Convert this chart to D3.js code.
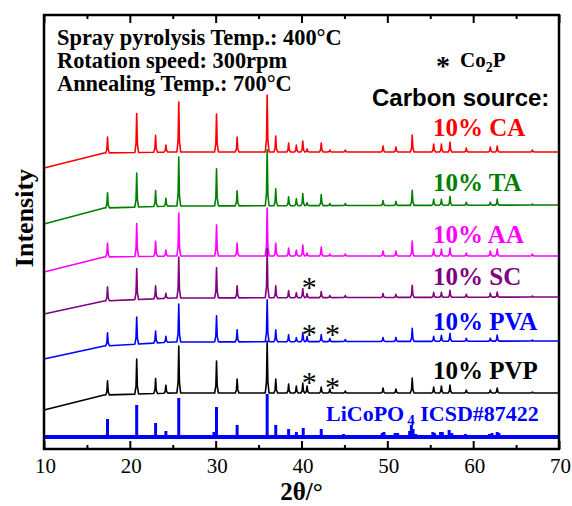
<!DOCTYPE html>
<html>
<head>
<meta charset="utf-8">
<script src="https://cdn.jsdelivr.net/npm/d3@7"></script>
<style>
  body { margin: 0; background: #fff; }
  svg { display: block; }
  .serif { font-family: "Liberation Serif", "Times New Roman", serif; }
  .sans { font-family: "Liberation Sans", Arial, sans-serif; }
</style>
</head>
<body>
<div id="chart"></div>
<script>
// peak positions (2θ, degrees) shared by the sample patterns
const peakPos = [17.4, 20.8, 23.0, 24.2, 25.7, 30.1, 32.5, 36.0, 37.0, 38.5, 39.4, 40.15, 40.65,
                 42.3, 43.3, 45.1, 49.5, 51.0, 52.9, 55.4, 56.3, 57.3, 59.2, 62.0, 62.8, 66.9];

// peak heights (a.u.) for every sample, same order as peakPos
const hCA  = [16, 39, 17, 7, 50, 38, 15, 57, 16, 9, 7, 11, 3, 9, 2, 2, 6, 5, 17, 8, 8, 10, 4, 5, 6, 2];
const hTA  = [15, 34, 16, 8, 49, 37, 15, 56, 17, 9, 7, 12, 3, 11, 2, 2, 5, 4, 15, 6, 6, 9, 3, 3, 6, 1];
const hAA  = [14, 33, 15, 6, 43, 31, 13, 48, 13, 8, 6, 11, 3, 9, 2, 2, 5, 5, 15, 7, 7, 8, 3, 5, 7, 2];
const hSC  = [14, 31, 13, 5, 41, 30, 12, 49, 12, 7, 5, 9, 4, 6, 2, 2, 4, 3, 12, 5, 5, 7, 3, 4, 5, 1];
const hPVA = [13, 27, 12, 6, 38, 26, 12, 42, 12, 7, 4, 9, 5, 7, 3, 2, 4, 4, 13, 5, 6, 8, 3, 3, 6, 1];
const hPVP = [14, 35, 15, 8, 47, 32, 14, 52, 14, 9, 7, 10, 7, 6, 4, 2, 5, 4, 15, 6, 7, 8, 3, 3, 5, 1];

// background knots (2θ) and stacked background levels per sample (a.u.)
const bgPos = [10, 17, 25, 70];
const bgCA  = [281, 296, 297, 297];
const bgTA  = [225, 241, 243, 244];
const bgAA  = [177, 192, 193, 193];
const bgSC  = [135, 148, 151, 152];
const bgPVA = [90, 103, 107, 108];
const bgPVP = [39, 54, 56, 56];

// peak profile template: [offset in degrees, fraction of height]
const peakShape = [[-0.22, 0], [-0.08, 0.22], [0, 1], [0.08, 0.22], [0.22, 0]];

// LiCoPO4 reference card ICSD#87422
const refBase = 12;
const refPos = [17.4, 20.8, 23.0, 24.2, 25.7, 29.8, 30.1, 32.5, 35.1, 36.0, 37.0, 38.5, 39.4, 40.2,
                42.3, 44.9, 45.9, 49.4, 49.6, 50.9, 51.2, 52.6, 52.8, 53.0, 53.3, 55.3, 55.5, 56.2,
                56.4, 57.2, 57.5, 59.1, 61.9, 62.2, 62.8, 63.0, 66.1, 67.2, 67.6];
const refH = [18, 32, 14, 6, 39, 5, 30, 12, 2, 43, 12, 8, 5, 9, 8, 3, 2, 4, 5, 4, 4, 6, 12, 8, 3,
              5, 4, 5, 5, 7, 4, 3, 3, 4, 5, 4, 1, 2, 2];

const seriesNames  = ["10% CA", "10% TA", "10% AA", "10% SC", "10% PVA", "10% PVP"];
const seriesColors = ["#ff0000", "#008000", "#ff00ff", "#800080", "#0000ff", "#000000"];
const seriesHeights = [hCA, hTA, hAA, hSC, hPVA, hPVP];
const seriesBg = [bgCA, bgTA, bgAA, bgSC, bgPVA, bgPVP];

// Co2P marks: sample index, 2θ, height above the background
const starMarks = [[3, 40.9, 14], [4, 40.9, 11], [4, 43.6, 11], [5, 40.9, 15], [5, 43.6, 10]];

const majorTicks = [10, 20, 30, 40, 50, 60, 70];
const minorTicks = [15, 25, 35, 45, 55, 65];

const infoLines = ["Spray pyrolysis Temp.: 400°C", "Rotation speed: 300rpm", "Annealing Temp.: 700°C"];

const width = 572, height = 506;
const margin = {top: 15, right: 13, bottom: 57, left: 44};

const svg = d3.select("#chart").append("svg")
    .attr("width", width)
    .attr("height", height);

const x = d3.scaleLinear().domain([10, 70]).range([margin.left, width - margin.right]);
const y = d3.scaleLinear().domain([0, 434]).range([height - margin.bottom, margin.top]);

const line = d3.line().x(d => x(d[0])).y(d => y(d[1]));

// sample patterns
seriesHeights.forEach((heights, i) => {
    const bg = d3.scaleLinear().domain(bgPos).range(seriesBg[i]);
    const pts = bgPos.map(p => [p, bg(p)]);
    peakPos.forEach((p, j) => {
        peakShape.forEach(s => {
            pts.push([p + s[0], bg(p + s[0]) + s[1] * heights[j]]);
        });
    });
    pts.sort((a, b) => a[0] - b[0]);

    svg.append("path")
        .attr("d", line(pts))
        .attr("fill", "none")
        .attr("stroke", seriesColors[i])
        .attr("stroke-width", 1.6)
        .attr("stroke-linejoin", "round");
});

// reference sticks
svg.append("g").selectAll("line")
    .data(refPos)
    .enter().append("line")
        .attr("x1", d => x(d)).attr("x2", d => x(d))
        .attr("y1", y(refBase))
        .attr("y2", (d, i) => y(refBase + refH[i]))
        .attr("stroke", "#0000ff")
        .attr("stroke-width", 3);

svg.append("line")
    .attr("x1", x(10)).attr("x2", x(70))
    .attr("y1", y(refBase)).attr("y2", y(refBase))
    .attr("stroke", "#0000ff")
    .attr("stroke-width", 4);

// Co2P stars
svg.append("g").selectAll("text")
    .data(starMarks)
    .enter().append("text")
        .attr("class", "serif")
        .attr("x", d => x(d[1]))
        .attr("y", d => y(seriesBg[d[0]][3] + d[2]) + 14)
        .attr("text-anchor", "middle")
        .style("font-size", "30px")
        .text("*");

// axes: inward ticks on top and bottom
const plotBottom = height - margin.bottom;

const xAxis = svg.append("g")
    .attr("transform", `translate(0,${plotBottom})`)
    .call(d3.axisBottom(x).tickValues(majorTicks).tickSize(-8).tickPadding(9).tickFormat(d3.format("d")));
svg.append("g")
    .attr("transform", `translate(0,${plotBottom})`)
    .call(d3.axisBottom(x).tickValues(minorTicks).tickSize(-4).tickFormat(""));
svg.append("g")
    .attr("transform", `translate(0,${margin.top})`)
    .call(d3.axisTop(x).tickValues(majorTicks).tickSize(-8).tickFormat(""));
svg.append("g")
    .attr("transform", `translate(0,${margin.top})`)
    .call(d3.axisTop(x).tickValues(minorTicks).tickSize(-4).tickFormat(""));

svg.selectAll(".domain").remove();
svg.selectAll(".tick line").attr("stroke", "#000").attr("stroke-width", 2);
xAxis.selectAll("text")
    .attr("class", "serif")
    .attr("dx", 1)
    .style("font-size", "21px")
    .attr("fill", "#000");

svg.append("rect")
    .attr("x", margin.left).attr("y", margin.top)
    .attr("width", width - margin.left - margin.right)
    .attr("height", height - margin.top - margin.bottom)
    .attr("fill", "none")
    .attr("stroke", "#000")
    .attr("stroke-width", 2.5);

// axis titles
svg.append("text")
    .attr("class", "serif")
    .attr("x", x(40)).attr("y", 500)
    .attr("text-anchor", "middle")
    .style("font-size", "25px").style("font-weight", "bold")
    .text("2θ/°");

svg.append("text")
    .attr("class", "serif")
    .attr("transform", "translate(33,218) rotate(-90)")
    .attr("text-anchor", "middle")
    .style("font-size", "26px").style("font-weight", "bold")
    .text("Intensity");

// info block
svg.append("g").selectAll("text")
    .data(infoLines)
    .enter().append("text")
        .attr("class", "serif")
        .attr("x", 57)
        .attr("y", (d, i) => 45 + i * 23)
        .style("font-size", "22.4px").style("font-weight", "bold")
        .text(d => d);

// legend
const co2p = svg.append("text")
    .attr("class", "serif")
    .attr("x", 436).attr("y", 67)
    .style("font-size", "21px").style("font-weight", "bold");
co2p.append("tspan").style("font-size", "28px").attr("dy", 8).text("*");
co2p.append("tspan").attr("dx", 10).attr("dy", -8).text("Co");
co2p.append("tspan").attr("dy", 5).style("font-size", "14px").text("2");
co2p.append("tspan").attr("dy", -5).text("P");

svg.append("text")
    .attr("class", "sans")
    .attr("x", 372).attr("y", 106)
    .style("font-size", "24px").style("font-weight", "bold")
    .text("Carbon source:");

const labelY = [136, 191, 243, 285, 330, 379];
svg.append("g").selectAll("text")
    .data(seriesNames)
    .enter().append("text")
        .attr("class", "serif")
        .attr("x", 433)
        .attr("y", (d, i) => labelY[i])
        .attr("fill", (d, i) => seriesColors[i])
        .style("font-size", "25px").style("font-weight", "bold")
        .text(d => d);

const refLabel = svg.append("text")
    .attr("class", "serif")
    .attr("x", 326).attr("y", 421)
    .attr("fill", "#0000ff")
    .style("font-size", "22px").style("font-weight", "bold");
refLabel.append("tspan").text("LiCoPO");
refLabel.append("tspan").attr("dx", 3).attr("dy", 4).style("font-size", "15px").text("4");
refLabel.append("tspan").attr("dy", -4).text(" ICSD#87422");
</script>
</body>
</html>
